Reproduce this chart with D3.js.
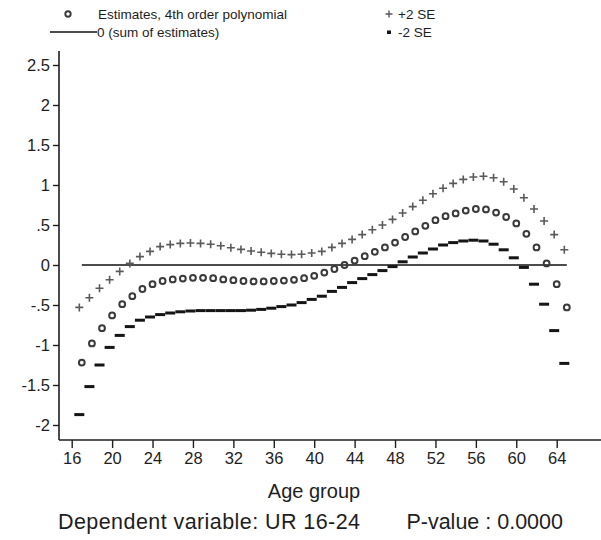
<!DOCTYPE html>
<html><head><meta charset="utf-8">
<script src="https://cdn.jsdelivr.net/npm/d3@7"></script>
<style>
body{margin:0;background:#fff;}
text{font-family:"Liberation Sans",Arial,sans-serif;}
</style>
</head><body>
<svg id="chart" width="601" height="540"></svg>
<script>
const ages = [17,18,19,20,21,22,23,24,25,26,27,28,29,30,31,32,33,34,35,36,37,38,39,40,41,
  42,43,44,45,46,47,48,49,50,51,52,53,54,55,56,57,58,59,60,61,62,63,64,65];
const estimates = [-1.22,-0.98,-0.79,-0.63,-0.49,-0.39,-0.30,-0.24,-0.20,-0.18,-0.17,-0.16,-0.16,-0.165,-0.18,-0.19,-0.20,-0.205,-0.205,-0.20,-0.195,-0.185,-0.165,-0.135,-0.095,
  -0.05,0.00,0.055,0.11,0.165,0.22,0.28,0.35,0.42,0.49,0.56,0.61,0.645,0.68,0.70,0.695,0.655,0.60,0.52,0.39,0.22,0.02,-0.24,-0.53];
const plus2SE = [-0.53,-0.41,-0.29,-0.185,-0.08,0.02,0.105,0.17,0.23,0.255,0.27,0.275,0.27,0.26,0.24,0.215,0.195,0.175,0.16,0.145,0.135,0.13,0.135,0.15,0.17,
  0.22,0.27,0.32,0.38,0.44,0.50,0.57,0.65,0.73,0.81,0.89,0.96,1.02,1.07,1.10,1.11,1.09,1.04,0.95,0.84,0.70,0.55,0.38,0.19];
const minus2SE = [-1.87,-1.52,-1.25,-1.03,-0.88,-0.77,-0.69,-0.65,-0.62,-0.60,-0.585,-0.575,-0.57,-0.57,-0.57,-0.57,-0.57,-0.565,-0.555,-0.54,-0.52,-0.50,-0.47,-0.43,-0.39,
  -0.33,-0.28,-0.22,-0.17,-0.12,-0.07,-0.02,0.04,0.10,0.15,0.20,0.25,0.28,0.30,0.31,0.30,0.26,0.19,0.09,-0.03,-0.24,-0.49,-0.82,-1.23];
const yTicks = [-2,-1.5,-1,-0.5,0,0.5,1,1.5,2,2.5];
const yTickLabels = ["-2","-1.5","-1","-.5","0",".5","1","1.5","2","2.5"];
const xTicks = [16,20,24,28,32,36,40,44,48,52,56,60,64];
const xTickLabels = ["16","20","24","28","32","36","40","44","48","52","56","60","64"];
const legendLabels = ["Estimates, 4th order polynomial","0 (sum of estimates)","+2 SE","-2 SE"];
const xTitle = "Age group";
const noteLeft = "Dependent variable: UR 16-24";
const noteRight = "P-value : 0.0000";

const svg = d3.select("#chart");
const x = d3.scaleLinear().domain([16,64]).range([71.7,556.7]);
const y = d3.scaleLinear().domain([-2,2.5]).range([425,65]);
const axisX = 59, axisY = 440;
const ink = "#1e1e1e";
const font = "'Liberation Sans',Arial,sans-serif";

// Y axis
const gy = svg.append("g").attr("transform",`translate(${axisX},0)`)
  .call(d3.axisLeft(y).tickValues(yTicks).tickFormat((d,i)=>yTickLabels[i]).tickSize(6).tickPadding(3));
gy.select(".domain").remove();
gy.selectAll(".tick line").attr("stroke",ink).attr("stroke-width",1.4);
gy.selectAll(".tick text").attr("font-size",16.5).attr("fill",ink).style("font-family",font);
svg.append("line").attr("x1",axisX).attr("x2",axisX).attr("y1",51).attr("y2",axisY)
  .attr("stroke",ink).attr("stroke-width",1.6);

// X axis
const gx = svg.append("g").attr("transform",`translate(0,${axisY})`)
  .call(d3.axisBottom(x).tickValues(xTicks).tickFormat((d,i)=>xTickLabels[i]).tickSize(8).tickPadding(4));
gx.select(".domain").remove();
gx.selectAll(".tick line").attr("stroke",ink).attr("stroke-width",1.4);
gx.selectAll(".tick text").attr("font-size",16.5).attr("fill",ink).style("font-family",font);
svg.append("line").attr("x1",axisX).attr("x2",601).attr("y1",axisY).attr("y2",axisY)
  .attr("stroke",ink).attr("stroke-width",1.6);

// zero reference line
svg.append("line")
  .attr("x1",x(d3.min(ages))).attr("x2",x(d3.max(ages)))
  .attr("y1",y(0)).attr("y2",y(0))
  .attr("stroke","#111").attr("stroke-width",1.7);

const shift = -2.5;
// +2 SE
svg.append("g").selectAll("path").data(ages).join("path")
  .attr("d",(a,i)=>{const cx=x(a)+shift, cy=y(plus2SE[i]); return `M${cx-4},${cy}H${cx+4}M${cx},${cy-4}V${cy+4}`;})
  .attr("stroke","#5a5a5a").attr("stroke-width",1.6).attr("fill","none");
// -2 SE
svg.append("g").selectAll("rect").data(ages).join("rect")
  .attr("x",a=>x(a)+shift-5).attr("y",(a,i)=>y(minus2SE[i])-1.5)
  .attr("width",10).attr("height",3).attr("fill","#151515");
// estimates
svg.append("g").selectAll("circle").data(ages).join("circle")
  .attr("cx",a=>x(a)).attr("cy",(a,i)=>y(estimates[i])).attr("r",2.9)
  .attr("fill","none").attr("stroke","#3a3a3a").attr("stroke-width",2);

// Legend
const lg = svg.append("g");
lg.append("circle").attr("cx",68).attr("cy",14).attr("r",2.7).attr("fill","none").attr("stroke","#3a3a3a").attr("stroke-width",1.9);
lg.append("text").attr("x",98).attr("y",18.5).attr("font-size",13.5).attr("fill",ink).text(legendLabels[0]);
lg.append("line").attr("x1",50).attr("x2",97).attr("y1",32).attr("y2",32).attr("stroke","#111").attr("stroke-width",1.5);
lg.append("text").attr("x",97).attr("y",36.5).attr("font-size",13.5).attr("fill",ink).text(legendLabels[1]);
lg.append("path").attr("d","M385.5,14H392.5M389,10.5V17.5").attr("stroke","#5a5a5a").attr("stroke-width",1.4);
lg.append("text").attr("x",398).attr("y",18.5).attr("font-size",13.5).attr("fill",ink).text(legendLabels[2]);
lg.append("rect").attr("x",387).attr("y",30.5).attr("width",4).attr("height",3.5).attr("fill","#151515");
lg.append("text").attr("x",398).attr("y",36.5).attr("font-size",13.5).attr("fill",ink).text(legendLabels[3]);

// Titles
svg.append("text").attr("x",314).attr("y",498).attr("text-anchor","middle").attr("font-size",20).attr("fill",ink).text(xTitle);
svg.append("text").attr("x",58).attr("y",529).attr("font-size",21.5).attr("fill",ink)
  .attr("textLength",302).attr("lengthAdjust","spacing").text(noteLeft);
svg.append("text").attr("x",563).attr("y",529).attr("text-anchor","end").attr("font-size",21.5).attr("fill",ink).text(noteRight);
</script>
</body></html>
